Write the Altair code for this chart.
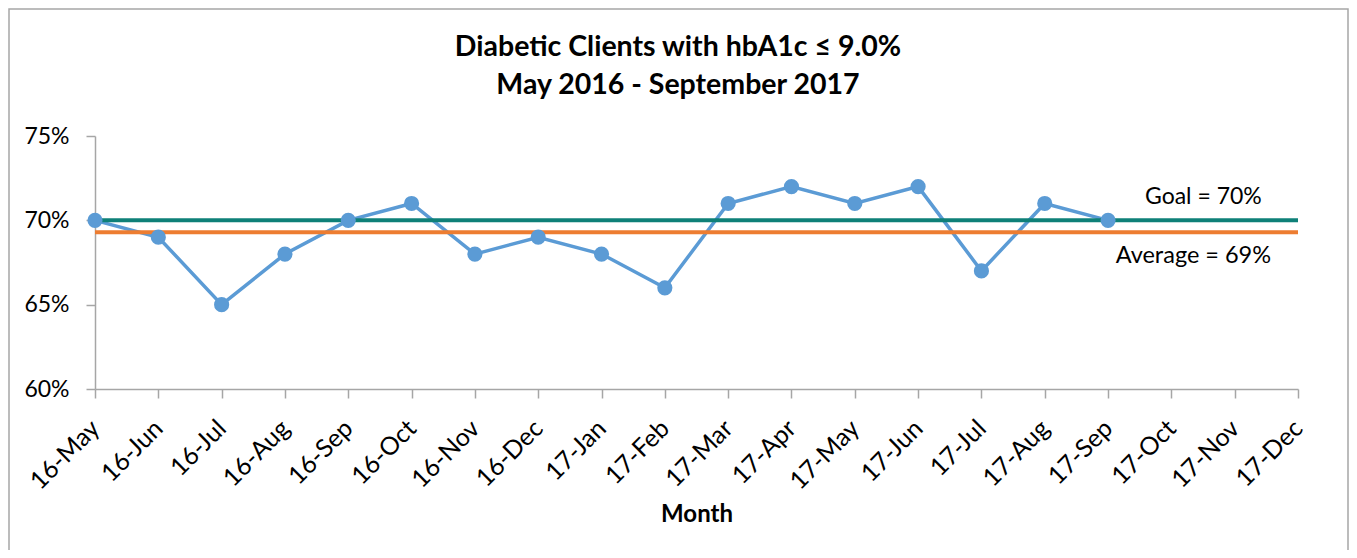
import altair as alt
import pandas as pd

months = ["16-May", "16-Jun", "16-Jul", "16-Aug", "16-Sep", "16-Oct", "16-Nov", "16-Dec",
          "17-Jan", "17-Feb", "17-Mar", "17-Apr", "17-May", "17-Jun", "17-Jul", "17-Aug",
          "17-Sep", "17-Oct", "17-Nov", "17-Dec"]
rates = [0.70, 0.69, 0.65, 0.68, 0.70, 0.71, 0.68, 0.69, 0.68, 0.66, 0.71, 0.72, 0.71,
         0.72, 0.67, 0.71, 0.70]
goal = 0.70
average = sum(rates) / len(rates)
title_lines = ["Diabetic Clients with hbA1c ≤ 9.0%", "May 2016 - September 2017"]

FONT = "Lato"

df = pd.DataFrame({"Month": months[:len(rates)], "Rate": rates})
ref = pd.DataFrame({
    "Month": [months[0], months[-1]] * 2,
    "Rate": [goal, goal, average, average],
    "Series": ["Goal", "Goal", "Average", "Average"],
})
labels = pd.DataFrame({
    "Month": ["17-Oct", "17-Oct"],
    "Rate": [goal, average],
    "Label": ["Goal = 70%", "Average = 69%"],
    "Series": ["Goal", "Average"],
})

xscale = alt.Scale(domain=months, type="point", padding=0)
yscale = alt.Scale(domain=[0.60, 0.75])

x_enc = alt.X("Month:N", scale=xscale, sort=months,
              axis=alt.Axis(title="Month", labelAngle=-45, labelAlign="right",
                            labelBaseline="middle", labelFontSize=25, labelFont=FONT,
                            labelColor="#000000", labelPadding=26,
                            titleFont=FONT, titleFontSize=24, titleFontWeight="bold",
                            titleColor="#000000", titlePadding=8,
                            domainColor="#A6A6A6", tickColor="#A6A6A6", tickSize=9,
                            domainWidth=1.5, tickWidth=1.5, grid=False))
y_enc = alt.Y("Rate:Q", scale=yscale,
              axis=alt.Axis(title=None, format=".0%", values=[0.60, 0.65, 0.70, 0.75],
                            labelFontSize=23, labelFont=FONT, labelColor="#000000",
                            labelPadding=17, domainColor="#A6A6A6", tickColor="#A6A6A6",
                            tickSize=9, domainWidth=1.5, tickWidth=1.5, grid=False))

line = alt.Chart(df).mark_line(color="#5B9BD5", strokeWidth=3.5).encode(x=x_enc, y=y_enc)

border = alt.Chart(pd.DataFrame({"a": [0]})).mark_rect(
    fillOpacity=0, stroke="#A6A6A6", strokeWidth=1.5
).encode(x=alt.value(-86), x2=alt.value(1253), y=alt.value(-127), y2=alt.value(460))

title1 = alt.Chart(pd.DataFrame({"t": [title_lines[0]]})).mark_text(
    font=FONT, fontSize=28.5, fontWeight="bold", color="#000000", baseline="middle"
).encode(x=alt.value(583), y=alt.value(-89), text="t:N")
title2 = alt.Chart(pd.DataFrame({"t": [title_lines[1]]})).mark_text(
    font=FONT, fontSize=28.5, fontWeight="bold", color="#000000", baseline="middle"
).encode(x=alt.value(583), y=alt.value(-51), text="t:N")

ref_lines = alt.Chart(ref).mark_line(strokeWidth=4).encode(
    x=alt.X("Month:N", scale=xscale, sort=months),
    y=alt.Y("Rate:Q", scale=yscale),
    detail="Series:N",
    color=alt.Color("Series:N", scale=alt.Scale(domain=["Goal", "Average"],
                                                  range=["#0E8078", "#ED7D31"]), legend=None),
)

points = alt.Chart(df).mark_circle(color="#5B9BD5", size=230, opacity=1).encode(
    x=alt.X("Month:N", scale=xscale, sort=months), y=alt.Y("Rate:Q", scale=yscale))

goal_text = alt.Chart(labels[labels.Series == "Goal"]).mark_text(
    font=FONT, fontSize=23, color="#000000", dx=32, dy=-23
).encode(x=alt.X("Month:N", scale=xscale, sort=months), y=alt.Y("Rate:Q", scale=yscale),
         text="Label:N")
avg_text = alt.Chart(labels[labels.Series == "Average"]).mark_text(
    font=FONT, fontSize=23.5, color="#000000", dx=22, dy=24
).encode(x=alt.X("Month:N", scale=xscale, sort=months), y=alt.Y("Rate:Q", scale=yscale),
         text="Label:N")

chart = alt.layer(line, border, title1, title2, ref_lines, points, goal_text, avg_text).properties(
    width=1203, height=253,
    autosize=alt.AutoSizeParams(type="none"),
    padding={"left": 87, "top": 128, "right": 51, "bottom": 161},
    background="white",
).configure_view(stroke=None)

chart.save("out.html", embed_options={"renderer": "svg", "actions": False})
